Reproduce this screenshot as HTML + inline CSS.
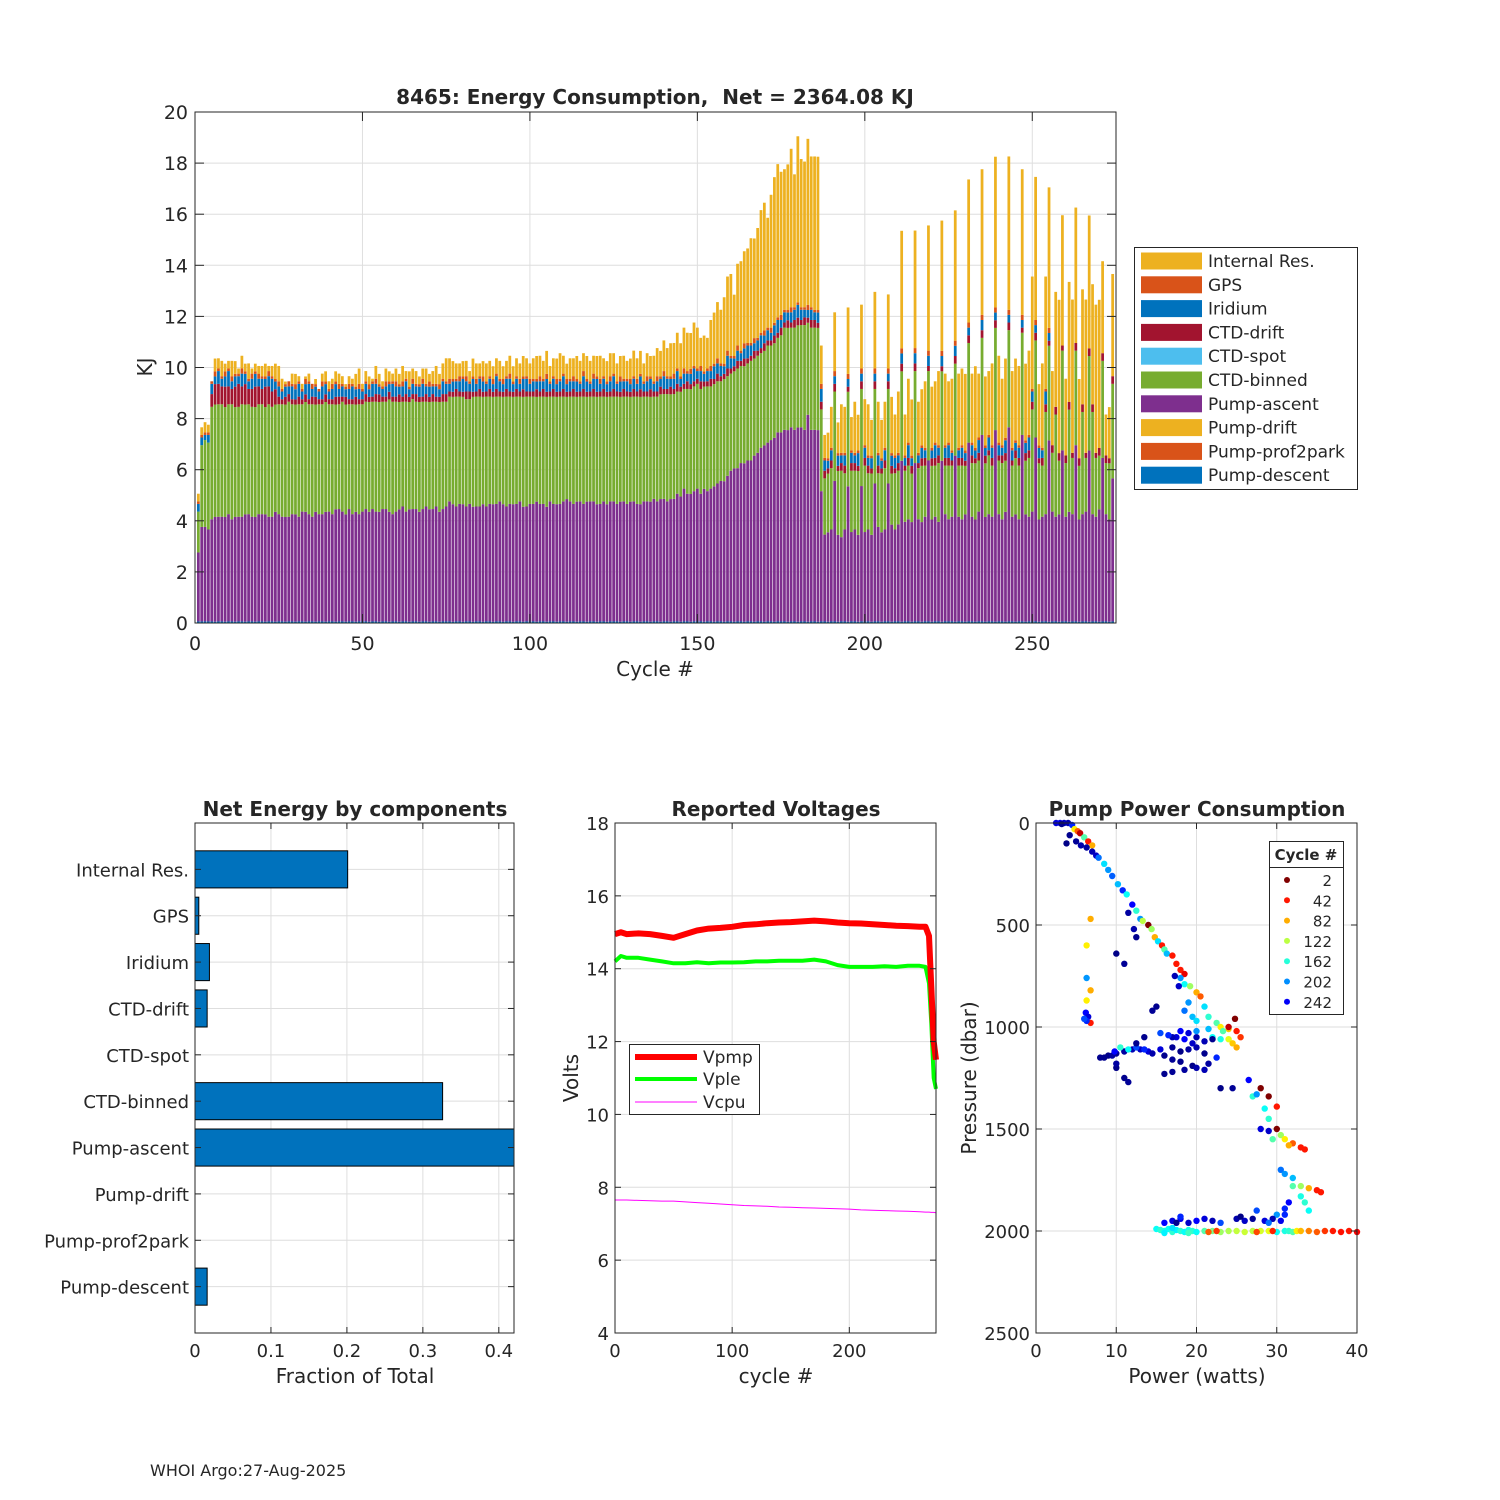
<!DOCTYPE html>
<html><head><meta charset="utf-8"><title>8465 Energy Consumption</title>
<style>
html,body{margin:0;padding:0;background:#fff;}
svg{display:block;font-family:"DejaVu Sans","Liberation Sans",sans-serif;}
text{fill:#262626;}
</style></head>
<body>
<svg id="fig" width="1500" height="1500" viewBox="0 0 1500 1500" xmlns="http://www.w3.org/2000/svg">
<rect width="1500" height="1500" fill="#fff"/>
<g id="main"></g>
<g id="frac"></g>
<g id="volt"></g>
<g id="pump"></g>
<text x="150" y="1476" font-size="16">WHOI Argo:27-Aug-2025</text>
</svg>
<script>
// ---------- main chart data (cycles 1..274) ----------
const pumpAscent=[2.7,3.7,3.7,3.6,
4.0,4.1,4.1,4.1,4.1,4.2,4.0,4.1,4.1,4.1,4.2,4.2,4.1,4.1,4.2,4.2,4.2,4.1,4.1,4.3,
4.2,4.1,4.1,4.1,4.2,4.2,4.1,4.3,4.3,4.2,4.1,4.3,4.2,4.2,4.3,4.3,4.2,4.4,4.4,4.3,4.2,4.4,4.2,4.3,4.2,4.3,
4.4,4.3,4.4,4.3,4.3,4.4,4.4,4.3,4.2,4.3,4.4,4.5,4.3,4.4,4.4,4.4,4.3,4.4,4.5,4.4,4.4,4.5,4.3,4.4,4.5,
4.7,4.6,4.5,4.6,4.6,4.5,4.6,4.5,4.5,4.5,4.6,4.5,4.6,4.6,4.6,4.7,4.6,4.5,4.6,4.6,4.6,4.7,4.5,4.5,4.6,
4.6,4.7,4.6,4.6,4.5,4.7,4.6,4.6,4.6,4.7,4.8,4.7,4.6,4.7,4.7,4.6,4.7,4.7,4.7,4.6,4.6,4.7,4.6,4.7,4.7,
4.6,4.7,4.7,4.6,4.7,4.7,4.6,4.6,4.7,4.7,4.7,4.8,4.7,4.8,4.8,4.7,4.8,4.8,5.0,4.9,5.2,5.0,5.0,5.1,5.2,
5.0,5.2,5.1,5.2,5.3,5.4,5.5,5.5,5.7,5.9,6.0,6.0,6.2,6.2,6.3,6.3,6.5,6.6,6.8,6.9,7.0,7.1,7.2,7.4,7.4,
7.5,7.5,7.6,7.5,7.6,7.6,7.5,8.1,7.5,7.5,7.5,
5.1,
3.4,3.5,3.6,5.5,3.4,3.3,3.6,5.3,3.5,3.6,3.4,5.3,3.5,3.6,3.4,5.4,3.7,3.5,3.6,5.4,3.8,3.6,3.8,6.3,
3.9,4.0,3.9,6.2,4.0,3.9,4.1,6.3,4.0,4.1,3.9,6.3,4.2,4.0,4.1,6.5,4.1,4.0,4.2,7.0,4.1,4.0,4.3,7.3,
4.1,4.2,4.1,7.5,4.2,4.0,4.3,7.6,4.1,4.2,4.0,7.3,4.2,4.1,4.3,7.2,4.0,4.1,4.2,7.1,4.3,4.1,4.2,6.7,
4.1,4.3,4.2,6.9,4.0,4.2,4.3,6.7,4.2,4.1,4.4,6.4,4.2,4.0,5.6];
const ctdBinned=[1.6,3.2,3.4,3.4,
4.4,4.4,4.4,4.4,4.3,4.3,4.5,4.3,4.3,4.4,4.3,4.3,4.3,4.3,4.3,4.3,4.2,4.4,4.3,4.2,
4.3,4.4,4.4,4.5,4.3,4.3,4.4,4.2,4.3,4.3,4.4,4.2,4.3,4.3,4.3,4.2,4.3,4.1,4.1,4.3,4.3,4.1,4.3,4.2,4.3,4.2,
4.2,4.3,4.2,4.3,4.3,4.2,4.2,4.4,4.4,4.3,4.2,4.1,4.3,4.2,4.3,4.2,4.3,4.2,4.1,4.2,4.2,4.1,4.3,4.2,4.1,
4.1,4.2,4.3,4.2,4.2,4.2,4.1,4.3,4.3,4.3,4.2,4.3,4.2,4.2,4.2,4.1,4.2,4.3,4.2,4.2,4.2,4.1,4.3,4.3,4.2,
4.2,4.1,4.2,4.2,4.3,4.1,4.2,4.2,4.2,4.1,4.0,4.1,4.2,4.1,4.1,4.2,4.1,4.1,4.1,4.2,4.2,4.1,4.2,4.1,4.1,
4.2,4.1,4.1,4.2,4.1,4.1,4.2,4.2,4.1,4.1,4.1,4.0,4.1,4.1,4.1,4.2,4.1,4.1,4.0,4.1,3.9,4.1,4.1,4.1,4.1,
4.1,4.0,4.1,4.0,4.0,4.0,3.9,4.0,3.9,3.8,3.8,3.9,3.8,3.8,3.8,3.9,3.8,3.8,3.7,3.7,3.8,3.7,3.7,3.7,3.8,
4.0,4.0,3.9,4.0,4.0,4.0,4.1,3.6,4.0,4.0,4.0,
3.2,
2.2,2.3,2.4,3.5,2.5,2.6,2.2,3.7,2.4,2.3,2.5,3.8,2.6,2.2,2.4,3.7,2.1,2.3,2.4,3.7,2.0,2.2,2.1,3.5,
2.0,2.1,1.9,3.6,2.0,2.2,2.0,3.5,2.1,2.0,2.3,3.5,1.9,2.1,2.0,3.6,2.0,2.1,1.9,3.9,2.1,2.2,2.0,3.8,
2.1,2.3,2.0,4.0,2.1,2.2,2.0,3.8,2.0,2.2,2.1,4.0,2.1,2.3,4.0,3.8,2.2,2.0,4.0,3.7,2.3,4.0,2.1,3.9,
2.1,4.0,2.2,3.7,2.1,4.0,2.1,3.7,4.0,2.3,2.1,3.8,2.0,2.2,3.7];
const ctdDrift=[0,0,0,0,
0.5,0.8,0.8,0.7,0.8,0.7,0.6,0.8,0.9,0.7,0.8,0.6,0.7,0.8,0.7,0.6,0.8,0.7,0.6,0.6,
0.3,0.2,0.3,0.3,0.2,0.2,0.3,0.2,0.3,0.2,0.3,0.3,0.2,0.2,0.3,0.2,0.2,0.3,0.3,0.2,0.3,0.2,0.2,0.3,0.2,
0.2,0.3,0.2,0.2,0.3,0.3,0.2,0.2,0.3,0.2,0.2,0.3,0.2,0.3,0.2,0.2,0.3,0.2,0.2,0.3,0.2,0.3,0.2,0.2,0.3,
0.3,0.2,0.2,0.3,0.2,0.2,0.3,0.3,0.2,0.2,0.3,0.2,0.2,0.3,0.2,0.3,0.2,0.2,0.3,0.2,0.2,0.3,0.2,0.3,0.2,
0.2,0.2,0.3,0.2,0.3,0.2,0.2,0.3,0.2,0.2,0.3,0.2,0.2,0.3,0.2,0.2,0.3,0.2,0.2,0.3,0.2,0.2,0.3,0.2,0.2,
0.3,0.2,0.2,0.3,0.2,0.2,0.3,0.2,0.3,0.2,0.2,0.3,0.2,0.2,0.3,0.2,0.2,0.3,0.2,0.3,0.2,0.2,0.3,0.2,0.2,
0.2,0.3,0.2,0.2,0.3,0.2,0.3,0.2,0.2,0.3,0.2,0.2,0.3,0.2,0.3,0.2,0.2,0.3,0.2,0.2,0.3,0.2,0.2,0.3,0.2,
0.3,0.2,0.3,0.2,0.3,0.3,0.2,0.3,0.2,0.3,0.3,0.2,0.3,0.3,0.2,0.3,0.3,0.2,0.3,0.3,0.2,0.3,0.3,0.2,0.3,
0.3,0.3,0.2,0.3,0.3,0.2,0.3,0.3,0.3,0.2,0.3,0.3,0.2,0.3,0.3,0.3,0.2,0.3,0.3,0.2,0.3,0.3,0.3,0.2,0.3,
0.3,0.2,0.3,0.3,0.3,0.2,0.3,0.3,0.2,0.3,0.3,0.3,0.2,0.3,0.3,0.2,0.3,0.3,0.3,0.2,0.3,0.3,0.2,0.3,0.3,
0.3,0.3,0.2,0.3,0.3,0.2,0.3,0.3,0.3,0.2,0.3,0.3,0.2,0.3,0.3,0.3,0.2,0.3,0.3,0.2,0.3,0.3,0.3,0.2,0.3];
const iridium=[0.3,0.3,0.2,0.3,
0.4,0.3,0.5,0.3,0.4,0.6,0.3,0.4,0.3,0.5,0.4,0.3,0.4,0.5,0.3,0.4,0.3,0.4,0.5,0.3,0.4,0.3,0.4,0.3,0.5,
0.4,0.5,0.3,0.4,0.6,0.3,0.4,0.3,0.5,0.4,0.3,0.4,0.5,0.3,0.4,0.3,0.4,0.5,0.3,0.4,0.3,0.4,0.3,0.5,0.4,0.3,
0.3,0.4,0.3,0.5,0.4,0.3,0.4,0.5,0.3,0.4,0.3,0.4,0.5,0.3,0.4,0.3,0.4,0.3,0.5,0.4,0.3,0.4,0.3,0.4,0.5,
0.4,0.3,0.5,0.3,0.4,0.4,0.3,0.4,0.3,0.5,0.4,0.3,0.4,0.5,0.3,0.4,0.3,0.4,0.5,0.3,0.4,0.3,0.4,0.3,0.5,
0.3,0.4,0.3,0.4,0.5,0.3,0.4,0.3,0.4,0.3,0.5,0.4,0.3,0.4,0.5,0.3,0.4,0.3,0.4,0.5,0.3,0.4,0.3,0.4,0.3,
0.4,0.3,0.5,0.3,0.4,0.4,0.3,0.4,0.3,0.5,0.4,0.3,0.4,0.5,0.3,0.4,0.3,0.4,0.5,0.3,0.4,0.3,0.4,0.3,0.5,
0.4,0.4,0.3,0.5,0.4,0.3,0.4,0.3,0.4,0.5,0.4,0.3,0.4,0.5,0.3,0.4,0.3,0.4,0.5,0.3,0.4,0.3,0.4,0.4,0.5,
0.4,0.3,0.3,0.4,0.3,0.4,0.5,0.4,0.3,0.4,0.3,0.4,0.3,0.4,0.3,0.4,0.3,0.5,0.3,0.4,0.3,0.4,0.3,0.4,0.3,
0.4,0.3,0.4,0.4,0.3,0.4,0.3,0.5,0.3,0.4,0.3,0.4,0.3,0.4,0.3,0.5,0.3,0.4,0.4,0.5,0.3,0.4,0.3,0.4,0.3,
0.3,0.4,0.3,0.5,0.4,0.3,0.5,0.4,0.3,0.4,0.3,0.5,0.3,0.4,0.3,0.4,0.3,0.4,0.5,0.4,0.3,0.4,0.3,0.5,0.3];
const gps=[0.1,0.1,0.1,0.1,
0.1,0.2,0.1,0.1,0.2,0.1,0.2,0.1,0.1,0.2,0.1,0.1,0.2,0.1,0.2,0.1,0.1,0.2,0.1,0.1,0.2,0.1,0.1,0.2,0.1,
0.2,0.1,0.1,0.2,0.1,0.2,0.1,0.1,0.2,0.1,0.1,0.2,0.1,0.2,0.1,0.1,0.2,0.1,0.1,0.2,0.1,0.1,0.2,0.1,0.2,0.1,
0.1,0.2,0.1,0.1,0.2,0.1,0.2,0.1,0.1,0.2,0.1,0.1,0.2,0.1,0.2,0.1,0.1,0.2,0.1,0.1,0.2,0.1,0.1,0.2,0.1,
0.2,0.1,0.1,0.2,0.1,0.2,0.1,0.1,0.2,0.1,0.1,0.2,0.1,0.2,0.1,0.1,0.2,0.1,0.1,0.2,0.1,0.1,0.2,0.1,0.2,
0.1,0.1,0.2,0.1,0.1,0.2,0.1,0.2,0.1,0.1,0.2,0.1,0.1,0.2,0.1,0.2,0.1,0.1,0.2,0.1,0.1,0.2,0.1,0.1,0.2,
0.1,0.2,0.1,0.1,0.2,0.1,0.1,0.2,0.1,0.2,0.1,0.1,0.2,0.1,0.1,0.2,0.1,0.2,0.1,0.1,0.2,0.1,0.1,0.2,0.1,
0.2,0.1,0.1,0.2,0.1,0.1,0.2,0.1,0.2,0.1,0.1,0.2,0.1,0.1,0.2,0.1,0.2,0.1,0.1,0.2,0.1,0.1,0.2,0.1,0.1,
0.1,0.1,0.2,0.1,0.1,0.1,0.2,0.1,0.1,0.1,0.2,0.1,0.1,0.1,0.2,0.1,0.1,0.1,0.2,0.1,0.1,0.1,0.2,0.1,0.1,
0.1,0.2,0.1,0.1,0.1,0.2,0.1,0.1,0.1,0.2,0.1,0.1,0.1,0.2,0.1,0.1,0.1,0.2,0.1,0.1,0.1,0.2,0.1,0.1,0.1,
0.2,0.1,0.1,0.1,0.2,0.1,0.1,0.1,0.2,0.1,0.1,0.1,0.2,0.1,0.1,0.1,0.2,0.1,0.1,0.1,0.2,0.1,0.1,0.1,0.2];
const pumpDescent=[0.06,0.06,0.06,0.06,
0.06,0.05,0.06,0.06,0.05,0.06,0.06,0.05,0.06,0.06,0.05,0.06,0.06,0.05,0.06,0.06,0.05,0.06,0.06,0.05,0.06,
0.06,0.05,0.06,0.06,0.05,0.06,0.06,0.05,0.06,0.06,0.05,0.06,0.06,0.05,0.06,0.06,0.05,0.06,0.06,0.05,0.06,0.06,0.05,0.06,0.06,
0.06,0.05,0.06,0.06,0.05,0.06,0.06,0.05,0.06,0.06,0.05,0.06,0.06,0.05,0.06,0.06,0.05,0.06,0.06,0.05,0.06,0.06,0.05,0.06,0.06,
0.06,0.05,0.06,0.06,0.05,0.06,0.06,0.05,0.06,0.06,0.05,0.06,0.06,0.05,0.06,0.06,0.05,0.06,0.06,0.05,0.06,0.06,0.05,0.06,0.06,
0.06,0.05,0.06,0.06,0.05,0.06,0.06,0.05,0.06,0.06,0.05,0.06,0.06,0.05,0.06,0.06,0.05,0.06,0.06,0.05,0.06,0.06,0.05,0.06,0.06,
0.06,0.05,0.06,0.06,0.05,0.06,0.06,0.05,0.06,0.06,0.05,0.06,0.06,0.05,0.06,0.06,0.05,0.06,0.06,0.05,0.06,0.06,0.05,0.06,0.06,
0.06,0.05,0.06,0.06,0.05,0.06,0.06,0.05,0.06,0.06,0.05,0.06,0.06,0.05,0.06,0.06,0.05,0.06,0.06,0.05,0.06,0.06,0.05,0.06,0.06,
0.06,0.05,0.06,0.06,0.05,0.06,0.06,0.05,0.06,0.06,0.05,0.06,0.06,0.05,0.06,0.06,0.05,0.06,0.06,0.05,0.06,0.06,0.05,0.06,0.06,
0.06,0.05,0.06,0.06,0.05,0.06,0.06,0.05,0.06,0.06,0.05,0.06,0.06,0.05,0.06,0.06,0.05,0.06,0.06,0.05,0.06,0.06,0.05,0.06,0.06,
0.06,0.05,0.06,0.06,0.05,0.06,0.06,0.05,0.06,0.06,0.05,0.06,0.06,0.05,0.06,0.06,0.05,0.06,0.06,0.05,0.06,0.06,0.05,0.06,0.06,
0.06,0.05,0.06,0.06,0.05,0.06,0.06,0.05,0.06,0.06,0.05,0.06,0.06,0.05,0.06,0.06,0.05,0.06,0.06,0.05,0.06,0.06,0.05,0.06,0.06];
const internalRes=[0.3,0.3,0.4,0.3,
0.0,0.5,0.4,0.6,0.3,0.3,0.6,0.5,0.2,0.5,0.3,0.6,0.2,0.3,0.3,0.4,0.5,0.2,0.4,0.6,
0.6,0.4,0.1,0.0,0.4,0.4,0.2,0.2,0.1,0.3,0.0,0.2,0.0,0.3,0.4,0.3,0.2,0.4,0.4,0.3,0.1,0.3,0.2,0.5,0.6,0.2,
0.4,0.3,0.1,0.5,0.4,0.2,0.5,0.4,0.3,0.5,0.4,0.6,0.3,0.6,0.4,0.5,0.3,0.4,0.6,0.3,0.5,0.7,0.4,0.6,0.9,
0.8,0.7,0.6,0.5,0.6,0.6,0.4,0.7,0.6,0.5,0.6,0.7,0.6,0.5,0.6,0.7,0.5,0.6,0.7,0.6,0.7,0.6,0.8,0.7,0.6,
0.8,0.9,0.8,0.7,0.9,0.6,0.7,0.8,1.0,0.7,0.6,0.8,0.7,0.9,0.8,0.7,0.9,0.8,0.7,0.8,0.9,0.7,0.8,0.9,0.8,
0.7,0.8,0.9,0.7,0.8,1.0,0.8,0.9,0.7,0.9,0.8,1.0,1.1,1.0,1.2,1.1,1.3,1.2,1.4,1.3,1.6,1.5,1.4,1.7,1.6,
1.1,1.4,1.2,1.8,2.0,2.2,2.1,2.6,2.9,3.2,2.4,3.2,3.5,3.6,3.7,4.1,3.9,4.3,4.8,5.0,4.3,5.2,5.7,6.0,5.6,
5.5,5.7,6.2,5.2,6.5,5.8,5.7,6.5,5.9,6.0,6.0,
1.5,
0.9,1.0,1.6,2.3,1.2,1.9,1.8,2.6,1.3,2.0,1.4,2.5,1.8,2.0,1.4,3.0,2.0,1.5,1.8,2.9,2.2,1.6,2.4,4.6,
1.6,2.5,2.2,4.6,2.0,2.2,2.6,4.9,2.4,2.4,2.9,5.1,2.8,2.4,2.8,5.1,2.9,3.0,3.0,5.6,2.7,3.2,2.5,5.7,
2.7,2.5,3.2,5.9,3.4,2.6,3.1,6.0,3.0,3.2,3.1,5.7,3.0,3.3,4.4,5.6,2.4,3.3,4.4,5.5,2.9,4.5,6.0,5.1,
3.0,4.7,6.0,5.3,3.1,4.5,6.0,5.2,4.7,5.8,5.8,3.6,1.6,2.0,4.0];

const seriesNames=['Internal Res.','GPS','Iridium','CTD-drift','CTD-spot','CTD-binned','Pump-ascent','Pump-drift','Pump-prof2park','Pump-descent'];
const seriesColors=['#EDB120','#D95319','#0072BD','#A2142F','#4DBEEE','#77AC30','#7E2F8E','#EDB120','#D95319','#0072BD'];
const mainXTicks=[0,50,100,150,200,250];
const mainYTicks=[0,2,4,6,8,10,12,14,16,18,20];

// ---------- fraction chart ----------
const fracLabels=['Internal Res.','GPS','Iridium','CTD-drift','CTD-spot','CTD-binned','Pump-ascent','Pump-drift','Pump-prof2park','Pump-descent'];
const fracValues=[0.201,0.005,0.019,0.016,0,0.326,0.43,0,0,0.016];
const fracXTicks=[0,0.1,0.2,0.3,0.4];

// ---------- voltages ----------
const voltCycles=[0,5,10,20,30,40,50,60,70,80,90,100,110,120,130,140,150,160,170,180,190,200,210,220,230,240,250,260,265,268,270,272,274];
const vpmp=[14.95,15.0,14.95,14.97,14.95,14.9,14.85,14.95,15.05,15.1,15.12,15.15,15.2,15.22,15.25,15.27,15.28,15.3,15.32,15.3,15.27,15.25,15.24,15.22,15.2,15.18,15.17,15.15,15.15,14.9,13.5,12.0,11.5];
const vple=[14.2,14.35,14.3,14.3,14.25,14.2,14.15,14.15,14.18,14.15,14.17,14.17,14.18,14.2,14.2,14.22,14.22,14.22,14.25,14.2,14.1,14.05,14.05,14.05,14.07,14.05,14.08,14.08,14.05,13.6,12.5,11.0,10.7];
const vcpu=[7.65,7.65,7.65,7.64,7.63,7.62,7.62,7.6,7.58,7.56,7.54,7.52,7.5,7.49,7.48,7.46,7.45,7.44,7.43,7.42,7.41,7.4,7.38,7.37,7.36,7.35,7.34,7.33,7.32,7.32,7.31,7.31,7.3];
const voltXTicks=[0,100,200];
const voltYTicks=[4,6,8,10,12,14,16,18];

// ---------- pump power scatter ----------
const pumpPower=[2.5,3.0,3.5,4.0,4.5,3.2,4.8,5.2,5.5,6.0,6.5,7.0,
4.2,5.0,3.8,6.3,5.6,7.0,7.5,7.8,
8.5,9.0,9.5,10.2,10.8,11.3,12.0,12.5,13.0,13.3,14.0,14.4,14.8,15.2,15.7,16.0,16.3,17.0,17.5,18.0,18.5,18.0,18.5,19.2,20.0,20.5,21.0,21.5,22.5,23.0,24.0,25.0,25.5,24.0,24.5,25.0,24.8,24.0,23.3,23.0,22.0,
11.5,12.2,12.5,10.0,11.0,17.3,17.8,15.0,14.5,18.5,19.0,19.5,20.0,
6.8,6.3,6.3,6.8,6.3,6.2,6.5,6.8,6.3,6.0,
8,9,10,11,12,13,14,8.5,9.5,10.5,11.5,12.5,13.5,14.5,10,11,11.5,10,13.5,9.8,16,17,18,19,20,21,17.5,18.5,19.5,20,21,17,18,19.5,21.5,16,17,18.5,20,21,22,22.5,17,15.5,16.5,18,19,20,21.5,12.5,15.5,
23,24.5,28,29,30,27,28.5,26.5,27.5,29,28,29,30,30.5,31,32,33,33.5,31.5,29.5,30.5,31,32,32,33,34,35,35.5,33,33.5,34,31,31.5,30,
15,15.5,16,16.5,17,17.5,18,18.5,19,19.5,20,21,22,23,24,25,26,27,28,29,30,31,31.5,32,32.5,33,34,35,36,37,38,39,40,21.5,22.5,27.5,29.5,19,16,17,
16,17,18,19,20,21,22,18,17.5,23,25,26,27,28.5,29.5,30.5,31,29,27.5,25.5];
const pumpPressure=[0,0,0,0,10,5,30,40,50,70,90,110,
60,90,100,120,110,140,160,170,
200,230,260,300,330,350,400,430,470,480,500,520,560,580,600,620,640,650,690,720,740,760,790,800,830,850,900,950,980,1000,1010,1020,1050,1060,1080,1100,960,1000,1020,1060,1050,
440,520,560,640,690,750,800,900,920,920,880,950,970,
470,600,760,820,870,930,950,980,970,960,
1150,1140,1130,1120,1110,1110,1120,1150,1140,1100,1110,1100,1110,1130,1200,1250,1270,1180,1050,1120,1140,1100,1120,1110,1100,1130,1050,1060,1080,1050,1070,1160,1170,1190,1180,1230,1220,1210,1200,1210,1060,1150,1050,1030,1040,1020,1030,1020,1010,1080,1110,
1300,1300,1300,1340,1390,1340,1400,1260,1330,1450,1500,1510,1500,1530,1550,1570,1590,1600,1580,1550,1700,1720,1740,1780,1780,1790,1800,1810,1830,1860,1900,1890,1860,1920,
1990,1995,2000,1990,2005,1995,2000,2005,1995,2000,2005,2000,2000,2005,2000,2000,2005,2000,2000,2000,2005,2000,2000,2005,2000,2000,2000,2005,2000,2000,2005,2000,2005,2005,2000,2005,2000,2010,2010,1985,
1960,1950,1940,1960,1950,1940,1950,1930,1960,1960,1940,1950,1940,1950,1940,1950,1920,1960,1900,1930];
const pumpCycle=[250,245,255,262,230,270,100,60,20,150,42,82,
270,268,272,265,262,260,255,210,
180,200,215,190,230,170,240,160,200,122,2,130,82,180,42,150,190,42,42,42,30,200,170,130,82,60,180,160,150,100,90,42,50,110,90,82,2,20,150,165,170,
265,262,270,272,268,260,255,270,268,210,200,190,180,
82,100,200,82,100,240,250,42,230,220,
270,272,268,265,260,255,250,270,265,160,170,220,230,262,272,270,268,265,270,240,270,268,272,265,262,270,250,240,255,262,260,268,270,272,265,270,268,266,262,260,270,230,260,220,230,240,250,200,190,270,250,
272,268,2,2,42,160,170,240,200,160,250,255,2,130,100,60,42,42,82,150,210,200,190,150,130,82,42,42,165,160,170,230,240,200,
170,160,165,170,160,175,160,170,165,160,170,150,140,130,125,120,118,122,115,110,170,165,160,150,100,85,70,60,50,42,40,42,35,60,50,55,45,155,175,180,
240,250,245,255,240,250,260,230,270,220,262,255,268,250,260,245,230,210,220,272];
const pumpLegendCycles=[2,42,82,122,162,202,242];
const pumpXTicks=[0,10,20,30,40];
const pumpYTicks=[0,500,1000,1500,2000,2500];

// ---------- helpers ----------
const NS='http://www.w3.org/2000/svg';
function mk(tag,attrs,parent){const e=document.createElementNS(NS,tag);for(const k in attrs)e.setAttribute(k,attrs[k]);parent.appendChild(e);return e;}
function txt(parent,x,y,s,size,anchor,extra){const t=mk('text',Object.assign({x:x,y:y,'font-size':size,'text-anchor':anchor||'start'},extra||{}),parent);t.textContent=s;return t;}
function jet(c){const t=1-(c-2)/272;const cl=v=>Math.max(0,Math.min(1,v));
 const r=cl(1.5-Math.abs(4*t-3)),g=cl(1.5-Math.abs(4*t-2)),b=cl(1.5-Math.abs(4*t-1));
 return 'rgb('+Math.round(r*255)+','+Math.round(g*255)+','+Math.round(b*255)+')';}

// ---------- main stacked bar chart ----------
(function(){
 const g=document.getElementById('main');
 const L=195,R=1116,T=112,B=623;
 const xs=v=>L+(v-0)/(275-0)*(R-L);
 const ys=v=>B-(v-0)/(20-0)*(B-T);
 mk('rect',{x:L,y:T,width:R-L,height:B-T,fill:'#fff'},g);
 mainXTicks.forEach(v=>{const gl=mk('line',{x1:xs(v),x2:xs(v),y1:T,y2:B,stroke:'#dedede','stroke-width':1},g);
  });
 mainYTicks.forEach(v=>{const gl=mk('line',{x1:L,x2:R,y1:ys(v),y2:ys(v),stroke:'#dedede','stroke-width':1},g);
  });
 const bw=(R-L)/275*0.82;
 const stackSeries=[pumpDescent,null,null,pumpAscent,ctdBinned,null,ctdDrift,iridium,gps,internalRes];
 const stackColors=['#0072BD','#D95319','#EDB120','#7E2F8E','#77AC30','#4DBEEE','#A2142F','#0072BD','#D95319','#EDB120'];
 const stackNames=['pump-descent','pump-prof2park','pump-drift','pump-ascent','ctd-binned','ctd-spot','ctd-drift','iridium','gps','internal-res'];
 for(let i=0;i<pumpAscent.length;i++){
  const cyc=i+1;let base=0;
  for(let s=0;s<stackSeries.length;s++){
   const arr=stackSeries[s];if(!arr)continue;const v=arr[i]||0;if(v<=0)continue;
   const y1=ys(base+v),y0=ys(base);
   const r=mk('rect',{x:(xs(cyc)-bw/2).toFixed(2),y:y1.toFixed(2),width:bw.toFixed(2),height:(y0-y1).toFixed(2),fill:stackColors[s]},g);
   
   
   base+=v;
  }
 }
 const ax=mk('rect',{x:L,y:T,width:R-L,height:B-T,fill:'none',stroke:'#262626','stroke-width':1},g);
 
 mainXTicks.forEach(v=>{mk('line',{x1:xs(v),x2:xs(v),y1:B,y2:B-9,stroke:'#262626'},g);mk('line',{x1:xs(v),x2:xs(v),y1:T,y2:T+9,stroke:'#262626'},g);
  const t=txt(g,xs(v),650,String(v),19,'middle');});
 mainYTicks.forEach(v=>{mk('line',{x1:L,x2:L+9,y1:ys(v),y2:ys(v),stroke:'#262626'},g);mk('line',{x1:R,x2:R-9,y1:ys(v),y2:ys(v),stroke:'#262626'},g);
  const t=txt(g,188,ys(v)+7,String(v),19,'end');});
 const ti=txt(g,655,104,'8465: Energy Consumption,\u00A0\u00A0Net = 2364.08 KJ',20,'middle',{'font-weight':'bold',style:'white-space:pre'});
 
 const xl=txt(g,655,676,'Cycle #',20,'middle');
 const yl=txt(g,0,0,'KJ',20,'middle',{transform:'translate(152,367) rotate(-90)'});
 const lg=mk('g',{},g);
 mk('rect',{x:1134.5,y:247.5,width:223,height:242,fill:'#fff',stroke:'#262626','stroke-width':1},lg);
 seriesNames.forEach((n,i)=>{const cy=261+i*23.8;
  const sw=mk('rect',{x:1141,y:cy-8.5,width:61,height:17,fill:seriesColors[i]},lg);
  
  const t=txt(lg,1208,cy+6,n,17,'start');});
})();

// ---------- fraction chart ----------
(function(){
 const g=document.getElementById('frac');
 const L=195,R=514,T=823,B=1333;
 const xs=v=>L+v/0.42*(R-L);
 const ys=k=>T+k/11*(B-T);
 fracXTicks.forEach(v=>{const gl=mk('line',{x1:xs(v),x2:xs(v),y1:T,y2:B,stroke:'#dedede'},g);});
 fracLabels.forEach((n,i)=>{const gl=mk('line',{x1:L,x2:R,y1:ys(i+1),y2:ys(i+1),stroke:'#dedede'},g);});
 const bh=(B-T)/11*0.8;
 fracLabels.forEach((n,i)=>{const v=Math.min(fracValues[i],0.42);
  if(v>0){const r=mk('rect',{x:L,y:ys(i+1)-bh/2,width:xs(v)-L,height:bh,fill:'#0072BD',stroke:'#000','stroke-width':1},g);
   }
  mk('line',{x1:L,x2:L+6,y1:ys(i+1),y2:ys(i+1),stroke:'#262626'},g);mk('line',{x1:R,x2:R-6,y1:ys(i+1),y2:ys(i+1),stroke:'#262626'},g);
  const t=txt(g,189,ys(i+1)+7,n,18,'end');});
 const ax=mk('rect',{x:L,y:T,width:R-L,height:B-T,fill:'none',stroke:'#262626'},g);
 fracXTicks.forEach(v=>{mk('line',{x1:xs(v),x2:xs(v),y1:B,y2:B-6,stroke:'#262626'},g);mk('line',{x1:xs(v),x2:xs(v),y1:T,y2:T+6,stroke:'#262626'},g);
  const t=txt(g,xs(v),1357,String(v),18,'middle');});
 const ti=txt(g,355,816,'Net Energy by components',20,'middle',{'font-weight':'bold'});
 const xl=txt(g,355,1383,'Fraction of Total',20,'middle');
})();

// ---------- voltage chart ----------
(function(){
 const g=document.getElementById('volt');
 const L=615,R=936,T=823,B=1333;
 const xs=v=>L+v/274*(R-L);
 const ys=v=>B-(v-4)/14*(B-T);
 voltXTicks.forEach(v=>{const gl=mk('line',{x1:xs(v),x2:xs(v),y1:T,y2:B,stroke:'#dedede'},g);});
 voltYTicks.forEach(v=>{const gl=mk('line',{x1:L,x2:R,y1:ys(v),y2:ys(v),stroke:'#dedede'},g);});
 function line(arr,color,w,name){const d=arr.map((v,i)=>(i?'L':'M')+xs(voltCycles[i]).toFixed(1)+','+ys(v).toFixed(1)).join('');
  const p=mk('path',{d:d,fill:'none',stroke:color,'stroke-width':w,'stroke-linejoin':'round'},g);}
 line(vcpu,'#FF00FF',1,'vcpu-line');line(vple,'#00FF00',4,'vple-line');line(vpmp,'#FF0000',6,'vpmp-line');
 const ax=mk('rect',{x:L,y:T,width:R-L,height:B-T,fill:'none',stroke:'#262626'},g);
 voltXTicks.forEach(v=>{mk('line',{x1:xs(v),x2:xs(v),y1:B,y2:B-6,stroke:'#262626'},g);mk('line',{x1:xs(v),x2:xs(v),y1:T,y2:T+6,stroke:'#262626'},g);
  const t=txt(g,xs(v),1357,String(v),18,'middle');});
 voltYTicks.forEach(v=>{mk('line',{x1:L,x2:L+6,y1:ys(v),y2:ys(v),stroke:'#262626'},g);mk('line',{x1:R,x2:R-6,y1:ys(v),y2:ys(v),stroke:'#262626'},g);
  const t=txt(g,609,ys(v)+7,String(v),18,'end');});
 const ti=txt(g,776,816,'Reported Voltages',20,'middle',{'font-weight':'bold'});
 const xl=txt(g,776,1383,'cycle #',20,'middle');
 const yl=txt(g,0,0,'Volts',20,'middle',{transform:'translate(578,1078) rotate(-90)'});
 const lg=mk('g',{},g);
 mk('rect',{x:629.5,y:1044.5,width:130,height:70,fill:'#fff',stroke:'#262626'},lg);
 [['Vpmp','#FF0000',6,1057],['Vple','#00FF00',4,1079],['Vcpu','#FF00FF',1,1102]].forEach(e=>{
  mk('line',{x1:635,x2:697,y1:e[3],y2:e[3],stroke:e[1],'stroke-width':e[2]},lg);
  const t=txt(lg,703,e[3]+6,e[0],17,'start');});
})();

// ---------- pump power scatter ----------
(function(){
 const g=document.getElementById('pump');
 const L=1036,R=1357,T=823,B=1333;
 const xs=v=>L+v/40*(R-L);
 const ys=v=>T+v/2500*(B-T);
 pumpXTicks.forEach(v=>{const gl=mk('line',{x1:xs(v),x2:xs(v),y1:T,y2:B,stroke:'#dedede'},g);});
 pumpYTicks.forEach(v=>{const gl=mk('line',{x1:L,x2:R,y1:ys(v),y2:ys(v),stroke:'#dedede'},g);});
 for(let i=0;i<pumpPower.length;i++){
  const c=mk('circle',{cx:xs(pumpPower[i]).toFixed(1),cy:ys(pumpPressure[i]).toFixed(1),r:3.2,fill:jet(pumpCycle[i])},g);
  
  
 }
 const ax=mk('rect',{x:L,y:T,width:R-L,height:B-T,fill:'none',stroke:'#262626'},g);
 pumpXTicks.forEach(v=>{mk('line',{x1:xs(v),x2:xs(v),y1:B,y2:B-6,stroke:'#262626'},g);mk('line',{x1:xs(v),x2:xs(v),y1:T,y2:T+6,stroke:'#262626'},g);
  const t=txt(g,xs(v),1357,String(v),18,'middle');});
 pumpYTicks.forEach(v=>{mk('line',{x1:L,x2:L+6,y1:ys(v),y2:ys(v),stroke:'#262626'},g);mk('line',{x1:R,x2:R-6,y1:ys(v),y2:ys(v),stroke:'#262626'},g);
  const t=txt(g,1030,ys(v)+7,String(v),18,'end');});
 const ti=txt(g,1197,816,'Pump Power Consumption',20,'middle',{'font-weight':'bold'});
 const xl=txt(g,1197,1383,'Power (watts)',20,'middle');
 const yl=txt(g,0,0,'Pressure (dbar)',20,'middle',{transform:'translate(976,1078) rotate(-90)'});
 const lg=mk('g',{},g);
 mk('rect',{x:1269.5,y:841.5,width:74,height:173,fill:'#fff',stroke:'#262626'},lg);
 mk('line',{x1:1269.5,x2:1343.5,y1:867.5,y2:867.5,stroke:'#262626'},lg);
 const lt=txt(lg,1306,860,'Cycle #',15,'middle',{'font-weight':'bold'});
 pumpLegendCycles.forEach((c,i)=>{const cy=880+i*20.3;
  mk('circle',{cx:1287,cy:cy,r:3,fill:jet(c)},lg);
  const t=txt(lg,1332,cy+6,String(c),15,'end');});
})();
</script>
</body></html>
